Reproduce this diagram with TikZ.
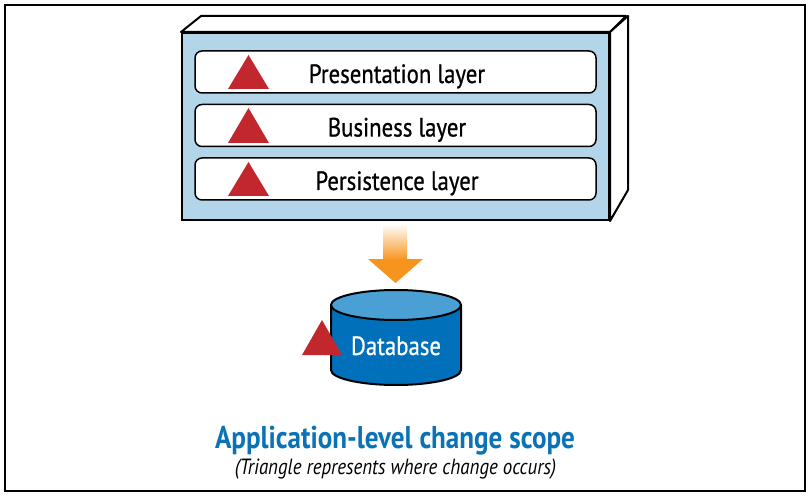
\documentclass[tikz,border=0pt]{standalone}
\usepackage{fontspec}
\setmainfont{PT Sans}[FakeStretch=0.86]
\newfontfamily\medfont{PT Sans}[FakeStretch=0.86, FakeBold=0.7]
\definecolor{appblue}{HTML}{B3D5EA}
\definecolor{chgred}{HTML}{C1272D}
\definecolor{arroworange}{HTML}{F7941D}
\definecolor{dbblue}{HTML}{0070BA}
\definecolor{dbtop}{HTML}{4A9FD5}
\definecolor{titleblue}{HTML}{0B72B5}
\tikzset{
  layer/.style={draw, fill=white, rounded corners=7pt, line width=1.5pt,
    minimum width=401pt, minimum height=42pt, inner sep=0pt,
    text height=22pt, text depth=0pt,
    font=\medfont\fontsize{26.5}{30}\selectfont},
  chg/.style={fill=chgred},
  face/.style={draw, fill=white, line width=2pt, line join=round}
}
\begin{document}
\begin{tikzpicture}[x=1pt,y=1pt]
\useasboundingbox (0,0) rectangle (811,-497);
\draw[line width=1.5pt] (5,-5) rectangle (805,-491);

% application box
\node[draw, fill=appblue, line width=2pt, minimum width=427pt, minimum height=187pt, inner sep=0pt] (app) at (395.5,-126.5) {};
\path[face] (app.north west) -- ++(20,16) -- ++(425,0) -- (app.north east) -- cycle;
\path[face] (app.north east) -- ++(18,16) -- ++(0,-174) -- (app.south east) -- cycle;

\node[layer] (pres) at (395.5,-72) {\hspace*{3pt}Presentation layer};
\node[layer] (bus) at (395.5,-125.5) {\hspace*{3pt}Business layer};
\node[layer] (pers) at (395.5,-179) {\hspace*{3pt}Persistence layer};

\fill[chg] (228,-89) -- (269,-89) -- (248.5,-55) -- cycle;
\fill[chg] (228,-143) -- (269,-143) -- (248.5,-108) -- cycle;
\fill[chg] (228,-196) -- (269,-196) -- (248.5,-162) -- cycle;

% arrow
\shade[top color=white, bottom color=arroworange] (383,-224) rectangle (407,-260);
\fill[arroworange] (368,-259) -- (423,-259) -- (395.5,-283) -- cycle;

% database
\fill[dbblue] (331,-305) rectangle (461,-370);
\fill[dbblue] (396,-370) ellipse [x radius=65, y radius=15];
\draw[line width=2pt] (331,-305) -- (331,-370) arc[start angle=180, end angle=360, x radius=65, y radius=15] -- (461,-305);
\draw[fill=dbtop, line width=2pt] (396,-305) ellipse [x radius=65, y radius=15];
\node[text=white, text height=18pt, text depth=0pt, inner sep=0pt, font=\medfont\fontsize{26.5}{30}\selectfont] (db) at (396,-346) {Database};
\fill[chg] (302,-355) -- (342,-355) -- (322,-320) -- cycle;

% caption
\node[text=titleblue, font=\fontsize{31.5}{36}\selectfont\bfseries] (title) at (395,-441) {Application-level change scope};
\node[font=\fontsize{22}{26}\selectfont\itshape] (note) at (395.5,-469) {(Triangle represents where change occurs)};
\end{tikzpicture}
\end{document}
